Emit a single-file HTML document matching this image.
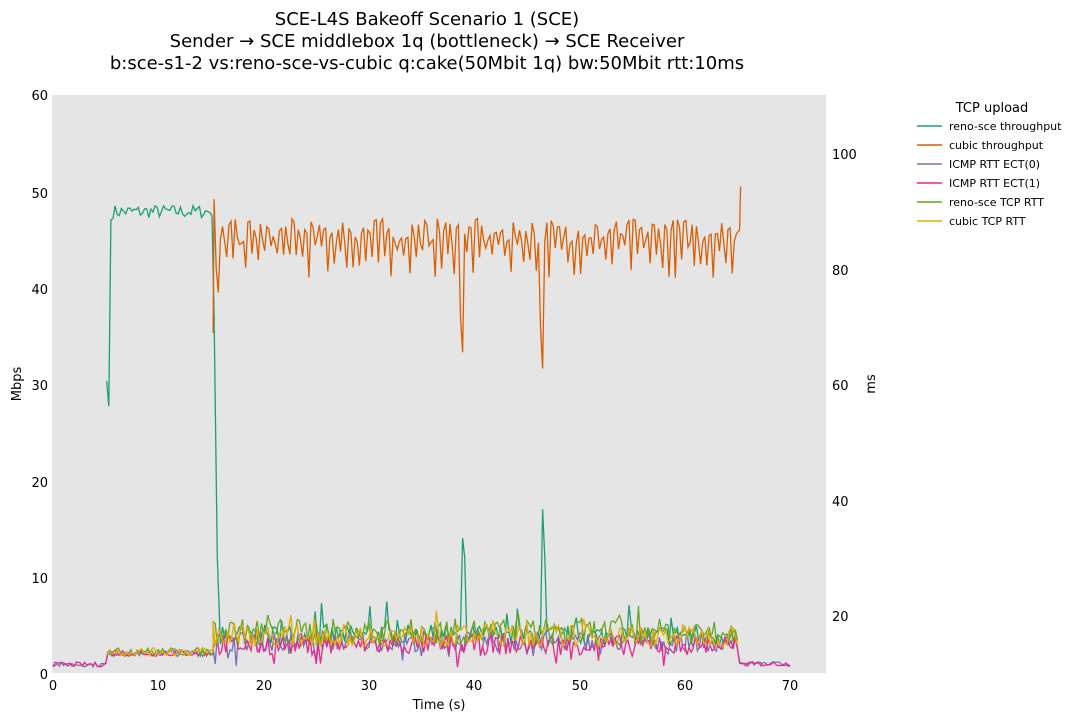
<!DOCTYPE html>
<html><head><meta charset="utf-8"><style>
body{margin:0;background:#fff;font-family:"Liberation Sans","DejaVu Sans",sans-serif}
svg text{font-family:"DejaVu Sans","Liberation Sans",sans-serif}
</style></head><body>
<svg id="s" width="1082" height="721" xmlns="http://www.w3.org/2000/svg">
<rect x="0" y="0" width="1082" height="721" fill="#fff"/>
<rect x="52" y="95" width="774" height="578" fill="#e5e5e5"/>
<g font-size="18" text-anchor="middle" fill="#000">
<text x="427" y="25">SCE-L4S Bakeoff Scenario 1 (SCE)</text>
<text x="427" y="47">Sender → SCE middlebox 1q (bottleneck) → SCE Receiver</text>
<text x="427" y="69">b:sce-s1-2 vs:reno-sce-vs-cubic q:cake(50Mbit 1q) bw:50Mbit rtt:10ms</text>
</g>
<g font-size="13" fill="#000" text-anchor="end">
<text x="48" y="100">60</text><text x="48" y="198">50</text><text x="48" y="294">40</text>
<text x="48" y="390">30</text><text x="48" y="487">20</text><text x="48" y="583">10</text><text x="48" y="679">0</text>
</g>
<g font-size="13" fill="#000">
<text x="832" y="159">100</text><text x="832" y="275">80</text><text x="832" y="390">60</text>
<text x="832" y="506">40</text><text x="832" y="621">20</text>
</g>
<g font-size="13" fill="#000" text-anchor="middle">
<text x="53" y="690">0</text><text x="158" y="690">10</text><text x="264" y="690">20</text>
<text x="369" y="690">30</text><text x="474" y="690">40</text><text x="580" y="690">50</text>
<text x="685" y="690">60</text><text x="790" y="690">70</text>
<text x="439" y="709">Time (s)</text>
</g>
<text font-size="13" transform="translate(21,384) rotate(-90)" text-anchor="middle">Mbps</text>
<text font-size="13" transform="translate(875,384) rotate(-90)" text-anchor="middle">ms</text>
<g id="plot" fill="none" stroke-width="1.3"></g>
<g font-size="11" fill="#000">
<text x="992" y="112" font-size="13" text-anchor="middle">TCP upload</text>
<line x1="917" x2="942" y1="126" y2="126" stroke="#1b9e77" stroke-width="1.5"/><text x="949" y="130">reno-sce throughput</text>
<line x1="917" x2="942" y1="145" y2="145" stroke="#d95f02" stroke-width="1.5"/><text x="949" y="149">cubic throughput</text>
<line x1="917" x2="942" y1="164" y2="164" stroke="#7570b3" stroke-width="1.5"/><text x="949" y="168">ICMP RTT ECT(0)</text>
<line x1="917" x2="942" y1="183" y2="183" stroke="#e7298a" stroke-width="1.5"/><text x="949" y="187">ICMP RTT ECT(1)</text>
<line x1="917" x2="942" y1="202" y2="202" stroke="#66a61e" stroke-width="1.5"/><text x="949" y="206">reno-sce TCP RTT</text>
<line x1="917" x2="942" y1="221" y2="221" stroke="#e6ab02" stroke-width="1.5"/><text x="949" y="225">cubic TCP RTT</text>
</g>
</svg>
<script>
var seed=7;function r(){seed=(seed*16807)%2147483647;return seed/2147483647;}
function X(t){return 53+t*10.53}
function YM(v){return 673-v*9.633}
function YR(ms){return 616-(ms-20)*5.775}
var g=document.getElementById('plot');
function add(pts,c){var p=document.createElementNS('http://www.w3.org/2000/svg','path');
p.setAttribute('d','M'+pts.map(function(a){return a[0].toFixed(1)+','+a[1].toFixed(1)}).join('L'));
p.setAttribute('stroke',c);g.appendChild(p);}
var a=[],t;
a=[[X(5.1),YM(30.3)],[X(5.3),YM(27.7)],[X(5.5),YM(47)]];
for(t=5.7;t<15.2;t+=0.2)a.push([X(t),YM(47.9+(r()-0.5)*1.4)]);
a.push([X(15.3),YM(37)]);a.push([X(15.6),YM(12)]);a.push([X(15.9),YM(3)]);
for(t=16.1;t<65;t+=0.2){var v=2.8+r()*2.2;if(Math.abs(t-38.9)<0.15)v=14;if(Math.abs(t-39.1)<0.15)v=12;if(Math.abs(t-46.5)<0.15)v=17;if(Math.abs(t-46.7)<0.15)v=12;if(r()<0.04)v+=2.5;a.push([X(t),YM(v)]);}
add(a,'#1b9e77');
a=[[X(15.2),YM(35.3)],[X(15.3),YM(49.2)],[X(15.5),YM(42)],[X(15.7),YM(39.5)],[X(15.9),YM(45)]];
var ph=0;
for(t=16.1;t<65;t+=0.2){ph++;var v=(ph%3==0)?(41+r()*3.5):(44.5+r()*2.7);
if(Math.abs(t-38.9)<0.15)v=33.3;if(Math.abs(t-38.7)<0.15)v=37;if(Math.abs(t-46.5)<0.15)v=31.6;if(Math.abs(t-46.3)<0.15)v=36;
a.push([X(t),YM(v)]);}
a.push([X(65.2),YM(46)]);a.push([X(65.3),YM(50.5)]);
add(a,'#d95f02');
function rtt(c,base,amp,dip){var a=[];
for(t=0;t<5.2;t+=0.2)a.push([X(t),YR(11.6+(r()-0.5)*0.8)]);
for(t=5.2;t<15.2;t+=0.2)a.push([X(t),YR(13.6+(r()-0.5)*1.2)]);
for(t=15.2;t<65;t+=0.2){var v=base+(r()-0.5)*amp;if(r()<0.05)v-=dip;a.push([X(t),YR(v)]);}
for(t=65.2;t<70.1;t+=0.2)a.push([X(t),YR(11.7+(r()-0.5)*0.8)]);
add(a,c);}
rtt('#7570b3',15.6,3.5,2.5);
rtt('#e7298a',15.0,3.5,2.5);
function trtt(c,base,amp){var a=[];
for(t=5.2;t<15.2;t+=0.2)a.push([X(t),YR(13.8+(r()-0.5)*1.4)]);
a.push([X(15.2),YR(19)]);
for(t=15.4;t<65.1;t+=0.2){var v=base+(r()-0.5)*amp;if(r()<0.06)v+=2.5;a.push([X(t),YR(v)]);}
add(a,c);}
trtt('#66a61e',17.3,4.5);
trtt('#e6ab02',16.6,3.8);
</script>
</body></html>
